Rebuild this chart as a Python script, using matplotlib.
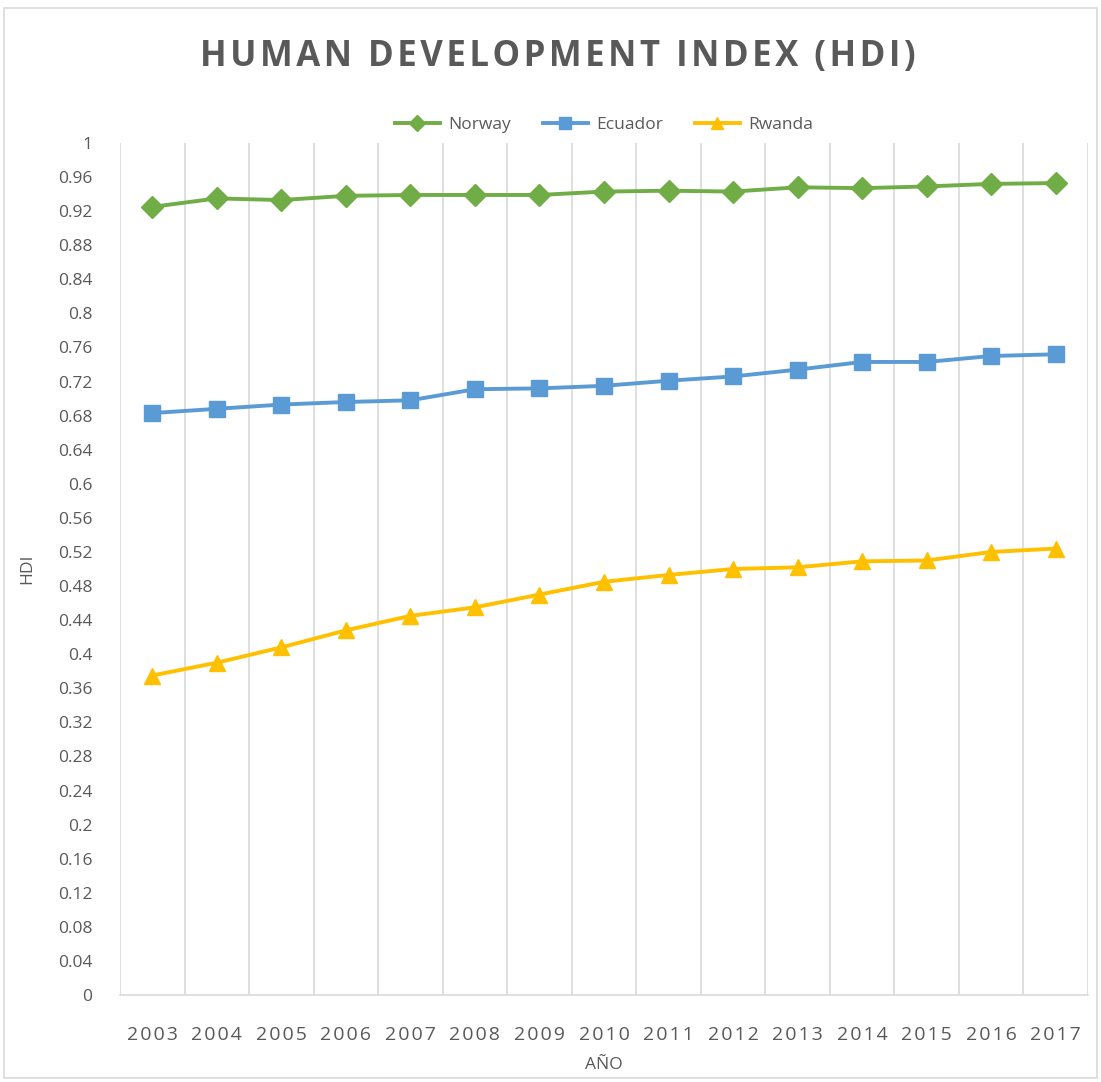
import matplotlib.pyplot as plt
import matplotlib.patches as mpatches
import numpy as np

years = ['2003', '2004', '2005', '2006', '2007', '2008', '2009', '2010',
         '2011', '2012', '2013', '2014', '2015', '2016', '2017']
norway = [0.925, 0.935, 0.933, 0.938, 0.939, 0.939, 0.939, 0.943,
          0.944, 0.943, 0.948, 0.947, 0.949, 0.952, 0.953]
ecuador = [0.683, 0.688, 0.693, 0.696, 0.698, 0.711, 0.712, 0.715,
           0.721, 0.726, 0.734, 0.743, 0.743, 0.750, 0.752]
rwanda = [0.375, 0.390, 0.408, 0.428, 0.445, 0.455, 0.470, 0.485,
          0.493, 0.500, 0.502, 0.509, 0.510, 0.520, 0.524]
yticks = [0, 0.04, 0.08, 0.12, 0.16, 0.2, 0.24, 0.28, 0.32, 0.36, 0.4, 0.44, 0.48,
          0.52, 0.56, 0.6, 0.64, 0.68, 0.72, 0.76, 0.8, 0.84, 0.88, 0.92, 0.96, 1]
title = 'HUMAN DEVELOPMENT INDEX (HDI)'

TXT = '#595959'
GRID = '#d9d9d9'
FONT = ['Open Sans', 'DejaVu Sans']
plt.rcParams['font.family'] = FONT

fig = plt.figure(figsize=(11.01, 10.82), dpi=100)
ax = fig.add_axes([120 / 1101, 1 - 995 / 1082, (1088 - 120) / 1101, (995 - 143) / 1082])

# chart border
fig.patches.append(mpatches.Rectangle((4 / 1101, 1 - 1078 / 1082), 1093 / 1101, 1070 / 1082,
                                      transform=fig.transFigure, fill=False,
                                      edgecolor=GRID, linewidth=1.2))

x = np.arange(len(years))
ax.plot(x, norway, color='#70AD47', lw=2.8, marker='D', ms=11, label='Norway')
ax.plot(x, ecuador, color='#5B9BD5', lw=2.8, marker='s', ms=11, label='Ecuador')
ax.plot(x, rwanda, color='#FFC000', lw=2.8, marker='^', ms=12, label='Rwanda')

ax.set_xlim(-0.5, len(years) - 0.5)
ax.set_ylim(0, 1)
ax.set_yticks(yticks)
ax.set_yticklabels([f'{v:.2f}'.rstrip('0').rstrip('.') for v in yticks])
ax.set_xticks(x)
ax.set_xticklabels(['\u200a'.join(y) for y in years])
ax.set_xticks(np.arange(len(years) + 1) - 0.5, minor=True)
ax.grid(True, which='minor', axis='x', color=GRID, lw=1.2)
ax.tick_params(axis='both', which='both', length=0, colors=TXT, labelsize=12.5)
ax.tick_params(axis='x', pad=22, labelsize=14)
ax.tick_params(axis='y', pad=20)
for s in ['top', 'right', 'left']:
    ax.spines[s].set_visible(False)
ax.spines['bottom'].set_color(GRID)
ax.spines['bottom'].set_linewidth(1.2)

ax.set_ylabel('HDI', color=TXT, fontsize=12.5, labelpad=16)
ax.set_xlabel('AÑO', color=TXT, fontsize=12.5, labelpad=10)

# letter-spaced title, wider gaps between words
spaced = '\u200a \u200a'.join('\u200a'.join(w) for w in title.split(' '))
fig.text(558 / 1101, 1 - 57 / 1082, spaced,
         ha='center', va='center', color=TXT, fontsize=25, fontweight='bold')

ax.legend(loc='lower center', bbox_to_anchor=(0.5, 1.0), ncol=3, frameon=False,
          fontsize=12.5, labelcolor=TXT, handlelength=2.6, columnspacing=1.8,
          handletextpad=0.5, borderaxespad=0.2, markerscale=0.75)

fig.savefig('out.png', dpi=100)
